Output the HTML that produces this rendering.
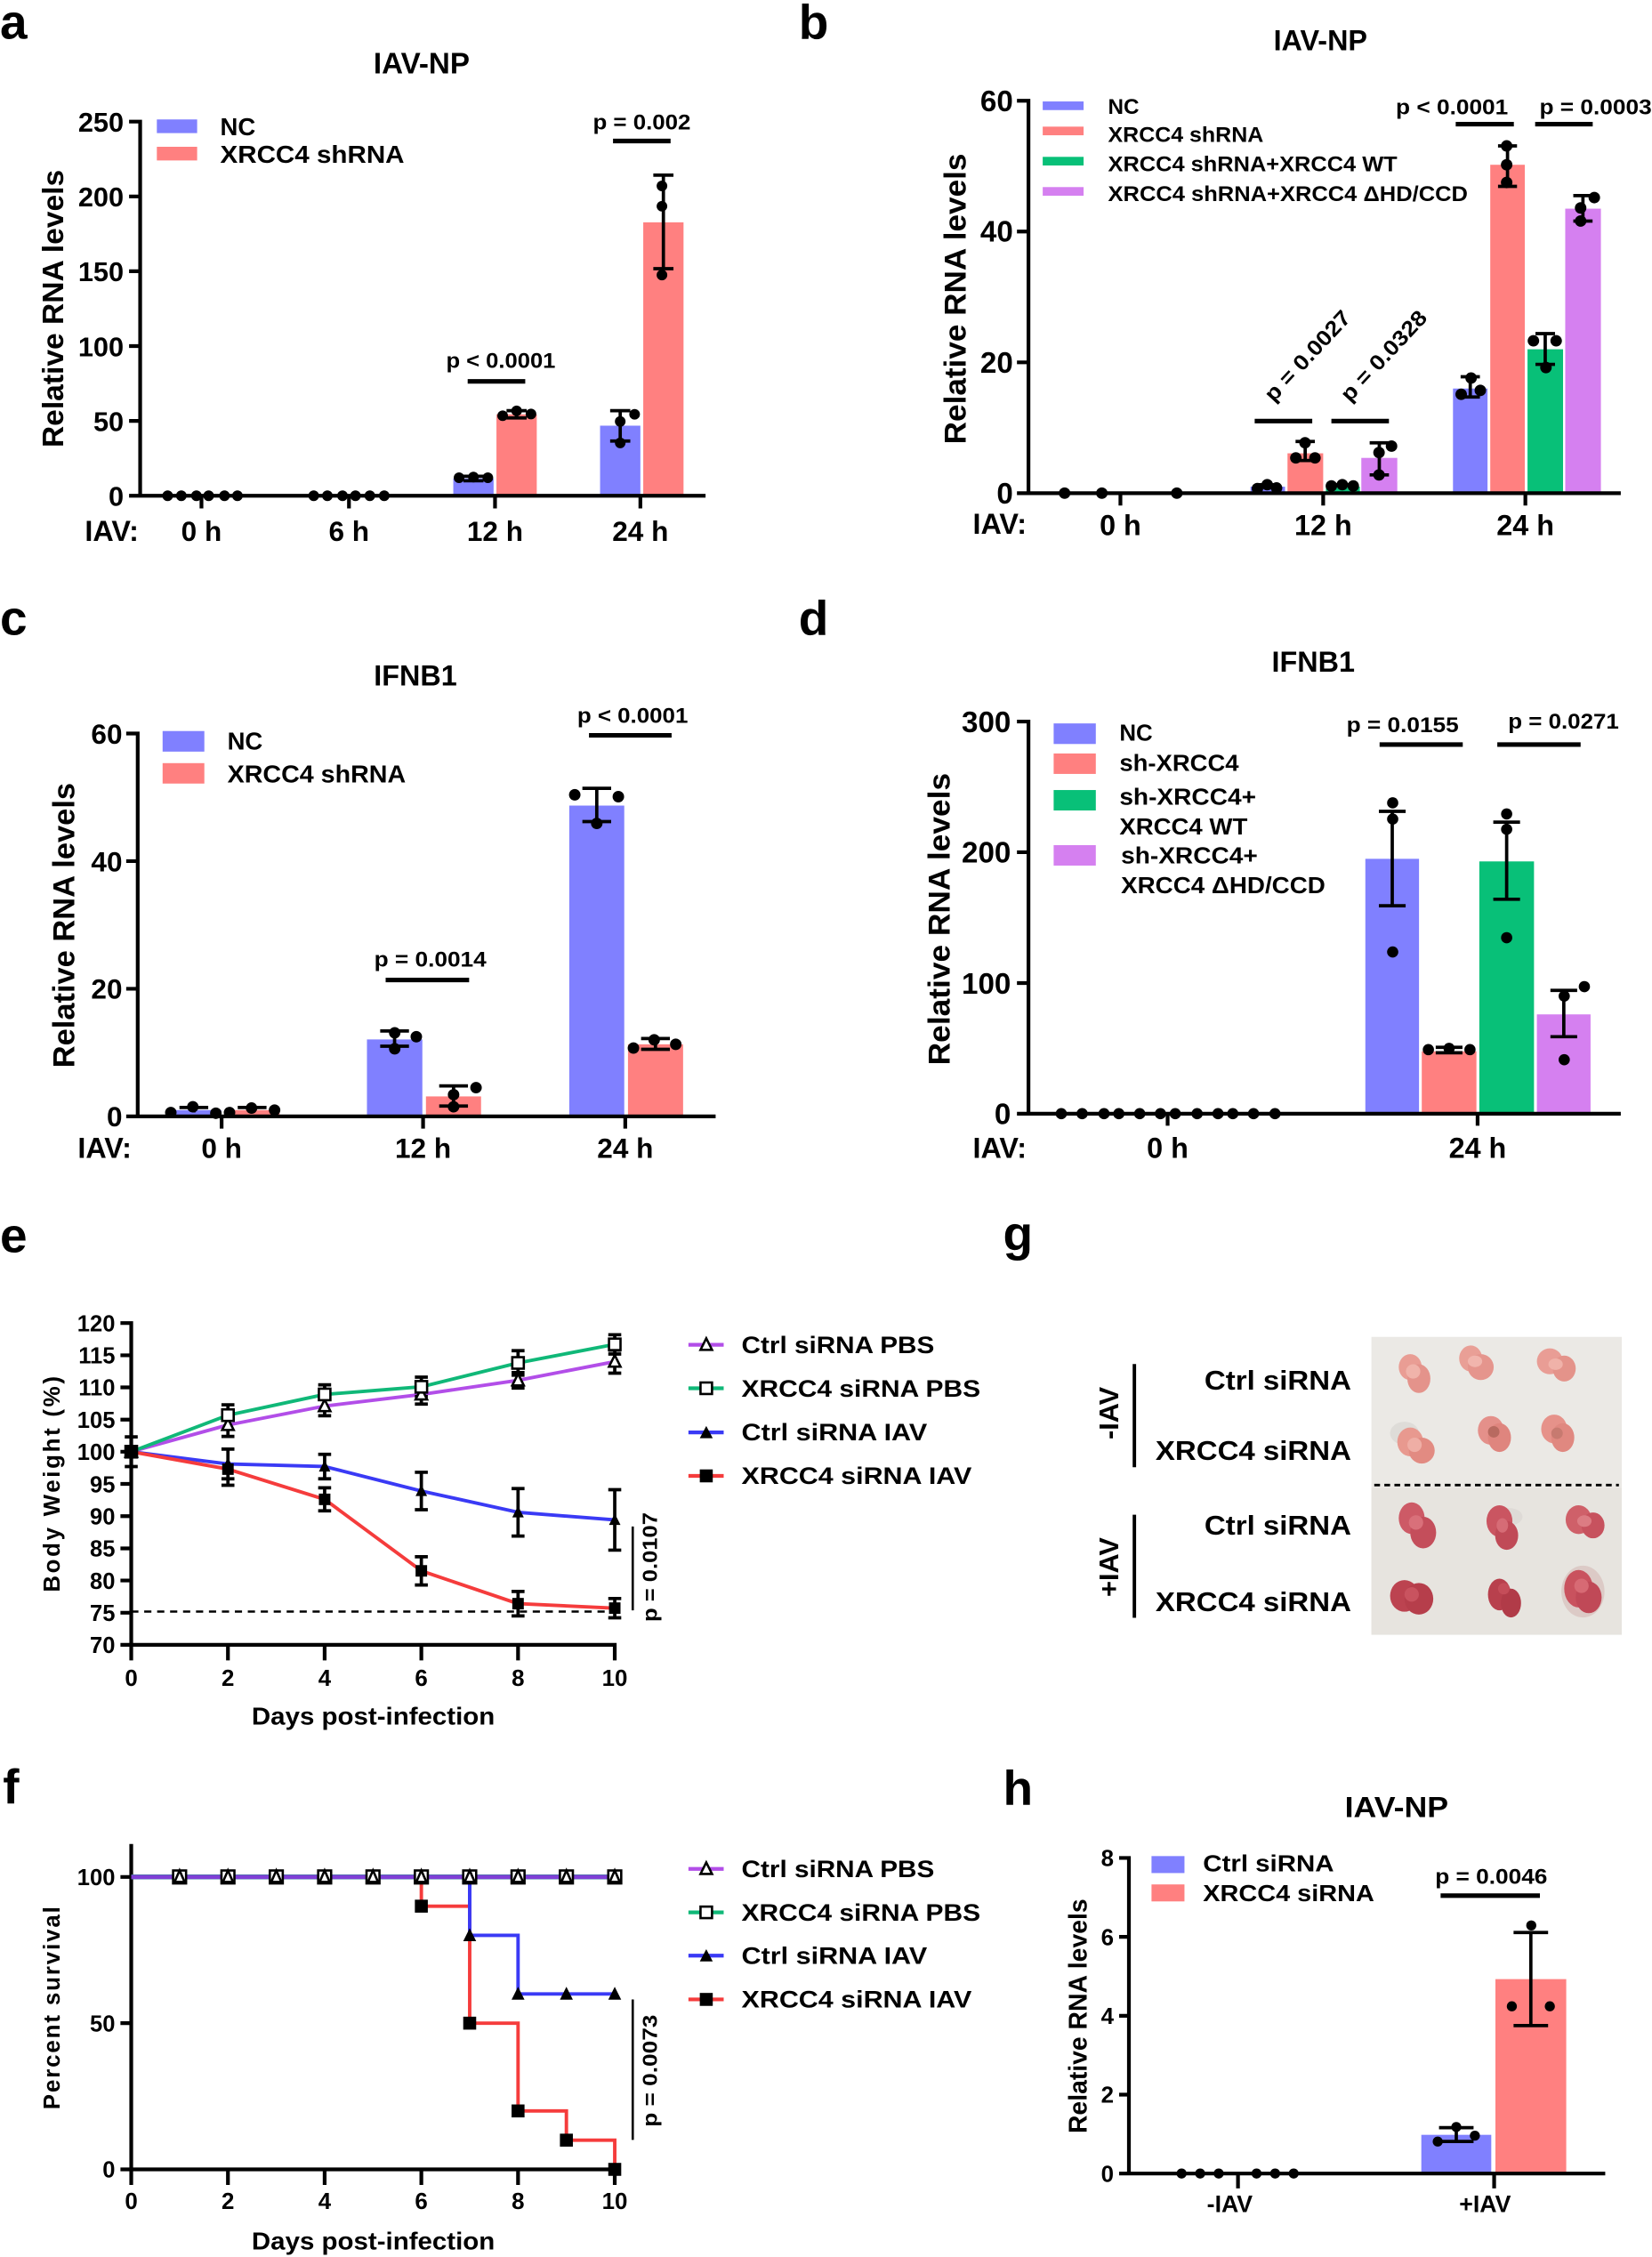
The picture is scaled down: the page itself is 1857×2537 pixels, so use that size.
<!DOCTYPE html>
<html><head><meta charset="utf-8"><style>
html,body{margin:0;padding:0;background:#fff}
svg{display:block}
text{font-family:"Liberation Sans",Arial,sans-serif;font-weight:bold;fill:#000}
.ax{stroke:#000;stroke-width:2.6;fill:none;stroke-linecap:square}
.eb{stroke:#000;stroke-width:2.3;fill:none}
.sg{stroke:#000;stroke-width:3.2}
</style></head><body>
<svg width="1857" height="2537" viewBox="0 0 1148 1568.4" preserveAspectRatio="none" xmlns="http://www.w3.org/2000/svg">
<rect width="1148" height="1569" fill="#fff"/>

<!-- ================= PANEL A ================= -->
<text x="0" y="27" font-size="34">a</text>
<text x="293" y="51" font-size="20.5" text-anchor="middle">IAV-NP</text>
<rect x="315" y="332.5" width="28" height="12" fill="#8080ff"/>
<rect x="345" y="287.9" width="28" height="56.6" fill="#ff8080"/>
<rect x="417" y="295.8" width="28" height="48.7" fill="#8080ff"/>
<rect x="447" y="154.5" width="28" height="190" fill="#ff8080"/>
<path class="ax" d="M97.4 84.5V344.5H489M91 84.5H97.4M91 136.5H97.4M91 188.5H97.4M91 240.5H97.4M91 292.5H97.4M91 344.5H97.4M140 344.5V352M242.5 344.5V352M344 344.5V352M445 344.5V352"/>
<g font-size="19" text-anchor="end">
<text x="86" y="351.5">0</text><text x="86" y="299.5">50</text><text x="86" y="247.5">100</text><text x="86" y="195.5">150</text><text x="86" y="143.5">200</text><text x="86" y="91.5">250</text>
</g>
<g font-size="19.5" text-anchor="middle">
<text x="140" y="376">0 h</text><text x="242.5" y="376">6 h</text><text x="344" y="376">12 h</text><text x="445" y="376">24 h</text>
</g>
<text x="59" y="376" font-size="20">IAV:</text>
<text transform="translate(44,214.5) rotate(-90)" font-size="20.5" text-anchor="middle" textLength="193" lengthAdjust="spacingAndGlyphs">Relative RNA levels</text>
<path class="eb" d="M461 121.7V186.7M454 121.7H468M454 186.7H468M431 285.4V306.5M424 285.4H438M424 306.5H438M359 285.4V290.4M352 285.4H366M352 290.4H366M329 331V334.1M322 331H336M322 334.1H336"/>
<g fill="#000">
<circle cx="460" cy="129.2" r="3.7"/><circle cx="460" cy="143.3" r="3.7"/><circle cx="460" cy="191.1" r="3.7"/>
<circle cx="431" cy="292.9" r="3.7"/><circle cx="441" cy="287.9" r="3.7"/><circle cx="431" cy="307.8" r="3.7"/>
<circle cx="319" cy="332" r="3.7"/><circle cx="329" cy="331.5" r="3.7"/><circle cx="339" cy="332" r="3.7"/>
<circle cx="349.3" cy="288.9" r="3.7"/><circle cx="359" cy="285.5" r="3.7"/><circle cx="369" cy="287.7" r="3.7"/>
<circle cx="116.5" cy="344.5" r="3.7"/><circle cx="126" cy="344.5" r="3.7"/><circle cx="136.5" cy="344.5" r="3.7"/><circle cx="145" cy="344.5" r="3.7"/><circle cx="156" cy="344.5" r="3.7"/><circle cx="165" cy="344.5" r="3.7"/>
<circle cx="218" cy="344.5" r="3.7"/><circle cx="227.5" cy="344.5" r="3.7"/><circle cx="238" cy="344.5" r="3.7"/><circle cx="247" cy="344.5" r="3.7"/><circle cx="257" cy="344.5" r="3.7"/><circle cx="267" cy="344.5" r="3.7"/>
</g>
<path class="sg" d="M325 265H365M426 98H466"/>
<text x="348" y="255.5" font-size="15" text-anchor="middle" textLength="76" lengthAdjust="spacingAndGlyphs">p &lt; 0.0001</text>
<text x="446" y="90" font-size="15" text-anchor="middle" textLength="68" lengthAdjust="spacingAndGlyphs">p = 0.002</text>
<rect x="109" y="83" width="28" height="9.5" fill="#8080ff"/>
<rect x="109" y="102" width="28" height="9.5" fill="#ff8080"/>
<text x="153" y="94" font-size="17">NC</text>
<text x="153" y="113" font-size="17" textLength="128" lengthAdjust="spacingAndGlyphs">XRCC4 shRNA</text>

<!-- ================= PANEL B ================= -->
<text x="555" y="27" font-size="34">b</text>
<text x="917.6" y="35" font-size="20" text-anchor="middle">IAV-NP</text>
<rect x="869" y="338.2" width="24" height="4.5" fill="#8080ff"/>
<rect x="894.7" y="315" width="24.8" height="27.7" fill="#ff8080"/>
<rect x="921.4" y="338.2" width="23.6" height="4.5" fill="#08c078"/>
<rect x="946" y="318.2" width="25" height="24.5" fill="#d580f0"/>
<rect x="1009.7" y="270" width="24" height="72.7" fill="#8080ff"/>
<rect x="1035.6" y="114.5" width="24" height="228.2" fill="#ff8080"/>
<rect x="1061.5" y="242.7" width="24.7" height="100" fill="#08c078"/>
<rect x="1087.7" y="145" width="24.8" height="197.7" fill="#d580f0"/>
<path class="ax" d="M714.7 70V342.7H1125M708 70H714.7M708 160.9H714.7M708 251.8H714.7M708 342.7H714.7M778.6 342.7V350M919.5 342.7V350M1060 342.7V350"/>
<g font-size="20.5" text-anchor="end">
<text x="704" y="350">0</text><text x="704" y="259">20</text><text x="704" y="168">40</text><text x="704" y="77.3">60</text>
</g>
<g font-size="20" text-anchor="middle">
<text x="778.6" y="372">0 h</text><text x="919.5" y="372">12 h</text><text x="1060" y="372">24 h</text>
</g>
<text x="676" y="371" font-size="20">IAV:</text>
<text transform="translate(671,207.7) rotate(-90)" font-size="21" text-anchor="middle" textLength="202" lengthAdjust="spacingAndGlyphs">Relative RNA levels</text>
<path class="eb" d="M1021.7 261.8V275.9M1015 261.8H1028.4M1015 275.9H1028.4M1047.6 101.4V129.5M1041 101.4H1054.2M1041 129.5H1054.2M1073.8 231.8V253.2M1067 231.8H1080.6M1067 253.2H1080.6M1100 135.9V153.6M1093.3 135.9H1106.7M1093.3 153.6H1106.7M907 306.8V320M900.3 306.8H913.7M900.3 320H913.7M958.5 307.7V330M951.8 307.7H965.2M951.8 330H965.2M881 336.8V339.5M874.3 336.8H887.7M933 336.8V339.5M926.3 336.8H939.7"/>
<g fill="#000">
<circle cx="1047" cy="101.4" r="4"/><circle cx="1047" cy="114.5" r="4"/><circle cx="1047" cy="126.8" r="4"/>
<circle cx="1098.4" cy="144.5" r="4"/><circle cx="1098.4" cy="153.6" r="4"/><circle cx="1107.9" cy="137.3" r="4"/>
<circle cx="1065.6" cy="236.8" r="4"/><circle cx="1081.4" cy="236.8" r="4"/><circle cx="1074.3" cy="255.4" r="4"/>
<circle cx="1022.3" cy="262.7" r="4"/><circle cx="1015.4" cy="274" r="4"/><circle cx="1028.7" cy="271.3" r="4"/>
<circle cx="906.9" cy="307.7" r="4"/><circle cx="900.5" cy="318.2" r="4"/><circle cx="913.8" cy="318.2" r="4"/>
<circle cx="958.3" cy="314.5" r="4"/><circle cx="967" cy="310" r="4"/><circle cx="958.3" cy="330" r="4"/>
<circle cx="873.8" cy="339.5" r="4"/><circle cx="880.6" cy="336.8" r="4"/><circle cx="887.1" cy="339.1" r="4"/>
<circle cx="925.2" cy="337.7" r="4"/><circle cx="932.8" cy="336.8" r="4"/><circle cx="940.4" cy="337.7" r="4"/>
<circle cx="739.8" cy="342.7" r="4"/><circle cx="765.7" cy="342.7" r="4"/><circle cx="817.8" cy="342.7" r="4"/>
</g>
<path class="sg" d="M871.9 292.6H911.9M925.2 292.6H965.2M1011.6 86.3H1052M1066.8 86.3H1106.8"/>
<text x="1009" y="79.4" font-size="15" text-anchor="middle" textLength="78" lengthAdjust="spacingAndGlyphs">p &lt; 0.0001</text>
<text x="1069.8" y="79.4" font-size="15" textLength="78" lengthAdjust="spacingAndGlyphs">p = 0.0003</text>
<text transform="translate(885,280) rotate(-47)" font-size="15" textLength="80" lengthAdjust="spacingAndGlyphs">p = 0.0027</text>
<text transform="translate(938,280) rotate(-47)" font-size="15" textLength="80" lengthAdjust="spacingAndGlyphs">p = 0.0328</text>
<rect x="724.6" y="70.5" width="28.4" height="6" fill="#8080ff"/>
<rect x="724.6" y="88" width="28.4" height="6" fill="#ff8080"/>
<rect x="724.6" y="109" width="28.4" height="6" fill="#08c078"/>
<rect x="724.6" y="130" width="28.4" height="6" fill="#d580f0"/>
<g font-size="15">
<text x="770" y="79">NC</text>
<text x="770" y="98.7" textLength="108" lengthAdjust="spacingAndGlyphs">XRCC4 shRNA</text>
<text x="770" y="119" textLength="201" lengthAdjust="spacingAndGlyphs">XRCC4 shRNA+XRCC4 WT</text>
<text x="770" y="139.6" textLength="250" lengthAdjust="spacingAndGlyphs">XRCC4 shRNA+XRCC4 ΔHD/CCD</text>
</g>

<!-- ================= PANEL C ================= -->
<text x="0" y="441" font-size="34">c</text>
<text x="288.7" y="476.2" font-size="20" text-anchor="middle">IFNB1</text>
<rect x="115.5" y="771.4" width="38.3" height="4.4" fill="#8080ff"/>
<rect x="156" y="771.4" width="38.3" height="4.4" fill="#ff8080"/>
<rect x="255" y="722.3" width="38.5" height="53.5" fill="#8080ff"/>
<rect x="296" y="761.9" width="38.3" height="13.9" fill="#ff8080"/>
<rect x="395.6" y="559.8" width="38.2" height="216" fill="#8080ff"/>
<rect x="436.4" y="725.7" width="38.3" height="50.1" fill="#ff8080"/>
<path class="ax" d="M95.7 509.7V775.8H496M89 509.7H95.7M89 598.4H95.7M89 687.1H95.7M89 775.8H95.7M154 775.8V783M294 775.8V783M434.5 775.8V783"/>
<g font-size="19.5" text-anchor="end">
<text x="85" y="782.8">0</text><text x="85" y="694.1">20</text><text x="85" y="605.4">40</text><text x="85" y="516.7">60</text>
</g>
<g font-size="19.5" text-anchor="middle">
<text x="154" y="804.7">0 h</text><text x="294" y="804.7">12 h</text><text x="434.5" y="804.7">24 h</text>
</g>
<text x="54" y="804.7" font-size="20">IAV:</text>
<text transform="translate(51.5,643) rotate(-90)" font-size="21" text-anchor="middle" textLength="198" lengthAdjust="spacingAndGlyphs">Relative RNA levels</text>
<path class="eb" d="M274.2 716.4V727M264.2 716.4H284.2M264.2 727H284.2M315.2 754.6V768.6M305.2 754.6H325.2M305.2 768.6H325.2M414.7 547.8V570.9M404.7 547.8H424.7M404.7 570.9H424.7M455.5 721.7V729.2M445.5 721.7H465.5M445.5 729.2H465.5M134.7 769.6V773.1M124.7 769.6H144.7M175.2 769.6V773.1M165.2 769.6H185.2"/>
<g fill="#000">
<circle cx="274.3" cy="717.7" r="4"/><circle cx="289.3" cy="720.4" r="4"/><circle cx="274.3" cy="728.8" r="4"/>
<circle cx="330.8" cy="755.8" r="4"/><circle cx="315.2" cy="760.7" r="4"/><circle cx="315.2" cy="769.1" r="4"/>
<circle cx="399.4" cy="552.3" r="4"/><circle cx="429.7" cy="553.6" r="4"/><circle cx="414.7" cy="572.2" r="4"/>
<circle cx="440.2" cy="728.3" r="4"/><circle cx="454.6" cy="722.6" r="4"/><circle cx="469.6" cy="725.7" r="4"/>
<circle cx="118.7" cy="773.1" r="4"/><circle cx="134" cy="769.1" r="4"/><circle cx="150" cy="773.6" r="4"/><circle cx="159.5" cy="773.1" r="4"/><circle cx="174.8" cy="770" r="4"/><circle cx="190.8" cy="771.4" r="4"/>
</g>
<path class="sg" d="M268 681H326M409.3 511H466.7"/>
<text x="299" y="671.6" font-size="15" text-anchor="middle" textLength="78" lengthAdjust="spacingAndGlyphs">p = 0.0014</text>
<text x="439.6" y="502.2" font-size="15" text-anchor="middle" textLength="77" lengthAdjust="spacingAndGlyphs">p &lt; 0.0001</text>
<rect x="113" y="508" width="29" height="14.3" fill="#8080ff"/>
<rect x="113" y="530.3" width="29" height="14.2" fill="#ff8080"/>
<text x="158" y="521" font-size="17">NC</text>
<text x="158" y="543.7" font-size="17" textLength="124" lengthAdjust="spacingAndGlyphs">XRCC4 shRNA</text>

<!-- ================= PANEL D ================= -->
<text x="555" y="441" font-size="34">d</text>
<text x="912.6" y="466.9" font-size="20" text-anchor="middle">IFNB1</text>
<rect x="948.8" y="596.8" width="37.3" height="177.1" fill="#8080ff"/>
<rect x="988" y="730.6" width="38" height="43.3" fill="#ff8080"/>
<rect x="1028" y="598.6" width="38" height="175.3" fill="#08c078"/>
<rect x="1068" y="704.9" width="37.3" height="69" fill="#d580f0"/>
<path class="ax" d="M714.7 501.4V773.9H1125M708 501.4H714.7M708 592.2H714.7M708 683.1H714.7M708 773.9H714.7M811.4 773.9V781M1026.8 773.9V781"/>
<g font-size="20.5" text-anchor="end">
<text x="702.5" y="781.2">0</text><text x="702.5" y="690.4">100</text><text x="702.5" y="599.5">200</text><text x="702.5" y="508.7">300</text>
</g>
<g font-size="20" text-anchor="middle">
<text x="811.4" y="804.7">0 h</text><text x="1026.8" y="804.7">24 h</text>
</g>
<text x="676" y="804.7" font-size="20">IAV:</text>
<text transform="translate(660,638.7) rotate(-90)" font-size="21" text-anchor="middle" textLength="203" lengthAdjust="spacingAndGlyphs">Relative RNA levels</text>
<path class="eb" d="M967.5 563.8V629.4M958.2 563.8H976.8M958.2 629.4H976.8M1007 727.8V731.6M997.7 727.8H1016.3M997.7 731.6H1016.3M1047 571.3V624.9M1037.7 571.3H1056.3M1037.7 624.9H1056.3M1086.7 688.2V720.4M1077.4 688.2H1096M1077.4 720.4H1096"/>
<g fill="#000">
<circle cx="967.8" cy="557.9" r="3.9"/><circle cx="967.8" cy="569.2" r="3.9"/><circle cx="967.8" cy="661.5" r="3.9"/>
<circle cx="992.6" cy="729.4" r="3.9"/><circle cx="1007" cy="728.5" r="3.9"/><circle cx="1021.5" cy="729.4" r="3.9"/>
<circle cx="1047" cy="565.6" r="3.9"/><circle cx="1047" cy="576.3" r="3.9"/><circle cx="1047" cy="651.6" r="3.9"/>
<circle cx="1087" cy="692.2" r="3.9"/><circle cx="1101" cy="685.6" r="3.9"/><circle cx="1087" cy="736.4" r="3.9"/>
<circle cx="737.5" cy="773.9" r="3.9"/><circle cx="752" cy="773.9" r="3.9"/><circle cx="767.2" cy="773.9" r="3.9"/><circle cx="777.5" cy="773.9" r="3.9"/><circle cx="792" cy="773.9" r="3.9"/><circle cx="806.4" cy="773.9" r="3.9"/><circle cx="816.7" cy="773.9" r="3.9"/><circle cx="831.9" cy="773.9" r="3.9"/><circle cx="846.4" cy="773.9" r="3.9"/><circle cx="856.7" cy="773.9" r="3.9"/><circle cx="871.1" cy="773.9" r="3.9"/><circle cx="886" cy="773.9" r="3.9"/>
</g>
<path class="sg" d="M958.7 517.4H1016.5M1040.5 517.4H1098.4"/>
<text x="974.7" y="508.9" font-size="15" text-anchor="middle" textLength="78" lengthAdjust="spacingAndGlyphs">p = 0.0155</text>
<text x="1048" y="506.2" font-size="15" textLength="77" lengthAdjust="spacingAndGlyphs">p = 0.0271</text>
<rect x="732.2" y="502.7" width="29.3" height="14.3" fill="#8080ff"/>
<rect x="732.2" y="523.6" width="29.3" height="14.2" fill="#ff8080"/>
<rect x="732.2" y="549" width="29.3" height="14.2" fill="#08c078"/>
<rect x="732.2" y="587.3" width="29.3" height="14.2" fill="#d580f0"/>
<g font-size="16">
<text x="777.9" y="514.8">NC</text>
<text x="777.9" y="535.7" textLength="83" lengthAdjust="spacingAndGlyphs">sh-XRCC4</text>
<text x="777.9" y="559.2" textLength="95" lengthAdjust="spacingAndGlyphs">sh-XRCC4+</text>
<text x="777.9" y="579.8" textLength="89" lengthAdjust="spacingAndGlyphs">XRCC4 WT</text>
<text x="779" y="599.9" textLength="95" lengthAdjust="spacingAndGlyphs">sh-XRCC4+</text>
<text x="779" y="620.8" textLength="142" lengthAdjust="spacingAndGlyphs">XRCC4 ΔHD/CCD</text>
</g>

<!-- ================= PANEL E ================= -->
<text x="0" y="870" font-size="34">e</text>
<path class="ax" d="M91.2 919.4V1143H427.2M85 919.4H91.2M85 941.8H91.2M85 964.1H91.2M85 986.5H91.2M85 1008.8H91.2M85 1031.2H91.2M85 1053.6H91.2M85 1076H91.2M85 1098.3H91.2M85 1120.7H91.2M85 1143H91.2M91.2 1143V1152.5M158.4 1143V1152.5M225.6 1143V1152.5M292.8 1143V1152.5M360 1143V1152.5M427.2 1143V1152.5"/>
<g font-size="15.8" text-anchor="end">
<text x="80" y="925.1">120</text><text x="80" y="947.5">115</text><text x="80" y="969.8">110</text><text x="80" y="992.2">105</text><text x="80" y="1014.5">100</text><text x="80" y="1036.9">95</text><text x="80" y="1059.3">90</text><text x="80" y="1081.7">85</text><text x="80" y="1104">80</text><text x="80" y="1126.4">75</text><text x="80" y="1148.7">70</text>
</g>
<g font-size="16" text-anchor="middle">
<text x="91.2" y="1171.4">0</text><text x="158.4" y="1171.4">2</text><text x="225.6" y="1171.4">4</text><text x="292.8" y="1171.4">6</text><text x="360" y="1171.4">8</text><text x="427.2" y="1171.4">10</text>
</g>
<text x="259.4" y="1198.5" font-size="17" text-anchor="middle" textLength="169" lengthAdjust="spacingAndGlyphs">Days post-infection</text>
<text transform="translate(41.5,1031.4) rotate(-90)" font-size="16" text-anchor="middle" textLength="150" lengthAdjust="spacing">Body Weight (%)</text>
<path d="M91.2 1119.9H427.2" stroke="#000" stroke-width="1.5" stroke-dasharray="5 4"/>
<g fill="none" stroke-width="2.4" stroke-linejoin="round">
<polyline stroke="#b24ee8" points="91.2,1008.8 158.4,990.2 225.6,977.1 292.8,969 360,959.2 427.2,946.2"/>
<polyline stroke="#10b878" points="91.2,1008.8 158.4,983.4 225.6,969 292.8,963.7 360,947.1 427.2,934.2"/>
<polyline stroke="#3a3af5" points="91.2,1008.8 158.4,1017.3 225.6,1019.1 292.8,1036.1 360,1050.9 427.2,1056.2"/>
<polyline stroke="#f53c3c" points="91.2,1008.8 158.4,1020.9 225.6,1041.9 292.8,1091.6 360,1114.4 427.2,1117.5"/>
</g>
<path class="eb" stroke-width="2" d="M91.2 998.5V1019.1M86.7 998.5H95.7M86.7 1019.1H95.7
M158.4 982.2V998.2M153.9 982.2H162.9M153.9 998.2H162.9M225.6 970.4V983.8M221.1 970.4H230.1M221.1 983.8H230.1M292.8 962.3V975.7M288.3 962.3H297.3M288.3 975.7H297.3M360 953.8V964.6M355.5 953.8H364.5M355.5 964.6H364.5M427.2 938.2V954.2M422.7 938.2H431.7M422.7 954.2H431.7
M158.4 976.2V990.6M153.9 976.2H162.9M225.6 962.3V975.7M221.1 962.3H230.1M292.8 957H297.3M288.3 957H297.3M292.8 957V970.4M288.3 970.4H297.3M360 938.6V955.6M355.5 938.6H364.5M355.5 955.6H364.5M427.2 927.5V940.9M422.7 927.5H431.7M422.7 940.9H431.7
M158.4 1007V1027.6M153.9 1007H162.9M153.9 1027.6H162.9M225.6 1010.6V1027.6M221.1 1010.6H230.1M221.1 1027.6H230.1M292.8 1023.1V1049.1M288.3 1023.1H297.3M288.3 1049.1H297.3M360 1034.4V1067.4M355.5 1034.4H364.5M355.5 1067.4H364.5M427.2 1035.2V1077.2M422.7 1035.2H431.7M422.7 1077.2H431.7
M158.4 1009.7V1032.1M153.9 1032.1H162.9M225.6 1033.9V1049.9M221.1 1033.9H230.1M221.1 1049.9H230.1M292.8 1081.8V1101.4M288.3 1081.8H297.3M288.3 1101.4H297.3M360 1105.9V1122.9M355.5 1105.9H364.5M355.5 1122.9H364.5M427.2 1110.8V1124.2M422.7 1110.8H431.7M422.7 1124.2H431.7"/>
<g fill="#fff" stroke="#000" stroke-width="1.6">
<path d="M91.2 1004.3L87.2 1012.3H95.2Z"/><path d="M158.4 985.7L154.4 993.7H162.4Z"/><path d="M225.6 972.6L221.6 980.6H229.6Z"/><path d="M292.8 964.5L288.8 972.5H296.8Z"/><path d="M360 954.7L356 962.7H364Z"/><path d="M427.2 941.7L423.2 949.7H431.2Z"/>
<rect x="87.2" y="1004.8" width="8" height="8"/><rect x="154.4" y="979.4" width="8" height="8"/><rect x="221.6" y="965" width="8" height="8"/><rect x="288.8" y="959.7" width="8" height="8"/><rect x="356" y="943.1" width="8" height="8"/><rect x="423.2" y="930.2" width="8" height="8"/>
</g>
<g fill="#000">
<path d="M158.4 1012.8L154.4 1020.8H162.4Z"/><path d="M225.6 1014.6L221.6 1022.6H229.6Z"/><path d="M292.8 1031.6L288.8 1039.6H296.8Z"/><path d="M360 1046.4L356 1054.4H364Z"/><path d="M427.2 1051.7L423.2 1059.7H431.2Z"/>
<rect x="87.2" y="1004.8" width="8" height="8"/><rect x="154.4" y="1016.9" width="8" height="8"/><rect x="221.6" y="1037.9" width="8" height="8"/><rect x="288.8" y="1087.6" width="8" height="8"/><rect x="356" y="1110.4" width="8" height="8"/><rect x="423.2" y="1113.5" width="8" height="8"/>
</g>
<path d="M439.7 1060.8V1119" stroke="#000" stroke-width="1.6"/>
<text transform="translate(456.5,1089) rotate(-90)" font-size="14.5" text-anchor="middle" textLength="76" lengthAdjust="spacingAndGlyphs">p = 0.0107</text>
<g stroke-width="2.6">
<path d="M478.4 934.5H502.9" stroke="#b24ee8"/><path d="M478.4 964.7H502.9" stroke="#10b878"/><path d="M478.4 995.4H502.9" stroke="#3a3af5"/><path d="M478.4 1025.6H502.9" stroke="#f53c3c"/>
</g>
<path d="M490.8 930L486.8 938H494.8Z" fill="#fff" stroke="#000" stroke-width="1.6"/>
<rect x="486.8" y="960.7" width="8" height="8" fill="#fff" stroke="#000" stroke-width="1.6"/>
<path d="M490.8 990.9L486.3 999.4H495.3Z" fill="#000"/>
<rect x="486.3" y="1021.1" width="9" height="9" fill="#000"/>
<g font-size="16.5">
<text x="515.3" y="940.2" textLength="134" lengthAdjust="spacingAndGlyphs">Ctrl siRNA PBS</text>
<text x="515.3" y="970.5" textLength="166" lengthAdjust="spacingAndGlyphs">XRCC4 siRNA PBS</text>
<text x="515.3" y="1001" textLength="129" lengthAdjust="spacingAndGlyphs">Ctrl siRNA IAV</text>
<text x="515.3" y="1031.3" textLength="160" lengthAdjust="spacingAndGlyphs">XRCC4 siRNA IAV</text>
</g>

<!-- ================= PANEL G ================= -->
<text x="697" y="869" font-size="34">g</text>
<rect x="953" y="929" width="174" height="207" fill="#ebe9e5"/>
<rect x="953" y="1034" width="174" height="102" fill="#e7e4df"/>
<g>
<!-- row 1 -->
<ellipse cx="980" cy="950" rx="8" ry="9" fill="#e99d94"/><ellipse cx="986" cy="958" rx="8" ry="10" fill="#e4938b"/><ellipse cx="982" cy="953" rx="5" ry="5" fill="#f0b3aa"/>
<ellipse cx="1022" cy="944" rx="8" ry="9" fill="#e99f96"/><ellipse cx="1029" cy="950" rx="9" ry="9" fill="#e5958d"/><ellipse cx="1025" cy="946" rx="5" ry="4" fill="#f1b5ad"/>
<ellipse cx="1077" cy="946" rx="9" ry="9" fill="#e99d95"/><ellipse cx="1087" cy="951" rx="8" ry="9" fill="#e4938a"/><ellipse cx="1081" cy="948" rx="5" ry="4" fill="#f0b2a9"/>
<!-- row 2 -->
<ellipse cx="976" cy="996" rx="10" ry="8" fill="#dedcd8"/>
<ellipse cx="980" cy="1002" rx="9" ry="10" fill="#e8998f"/><ellipse cx="988" cy="1008" rx="9" ry="9" fill="#e28b82"/><ellipse cx="983" cy="1004" rx="5" ry="5" fill="#efaea5"/>
<ellipse cx="1036" cy="994" rx="9" ry="10" fill="#e4908a"/><ellipse cx="1042" cy="999" rx="8" ry="10" fill="#df857e"/><ellipse cx="1038" cy="995" rx="4" ry="4" fill="#b86a60"/>
<ellipse cx="1080" cy="993" rx="9" ry="10" fill="#e6928a"/><ellipse cx="1086" cy="999" rx="8" ry="10" fill="#e08880"/><ellipse cx="1082" cy="996" rx="4" ry="4" fill="#c77a70"/>
<!-- row 3 -->
<ellipse cx="981" cy="1055" rx="9" ry="11" fill="#cd5a66"/><ellipse cx="989" cy="1065" rx="9" ry="11" fill="#c44e5b"/><ellipse cx="984" cy="1058" rx="5" ry="5" fill="#d9707a"/>
<ellipse cx="1049" cy="1054" rx="9" ry="6" fill="#dedad6"/>
<ellipse cx="1042" cy="1057" rx="9" ry="11" fill="#ca5561"/><ellipse cx="1047" cy="1067" rx="8" ry="10" fill="#c04a57"/><ellipse cx="1044" cy="1060" rx="4" ry="5" fill="#d66c76"/>
<ellipse cx="1097" cy="1056" rx="9" ry="10" fill="#cf6069"/><ellipse cx="1107" cy="1060" rx="8" ry="9" fill="#c7525e"/><ellipse cx="1101" cy="1057" rx="5" ry="4" fill="#dc7c83"/>
<!-- row 4 -->
<ellipse cx="976" cy="1109" rx="10" ry="11" fill="#bc4350"/><ellipse cx="986" cy="1111" rx="10" ry="11" fill="#b63e4b"/><ellipse cx="981" cy="1108" rx="5" ry="5" fill="#c9535f"/>
<ellipse cx="1042" cy="1108" rx="8" ry="11" fill="#b8404d"/><ellipse cx="1050" cy="1114" rx="7" ry="10" fill="#b13b48"/><ellipse cx="1045" cy="1104" rx="4" ry="4" fill="#c54d59"/>
<ellipse cx="1100" cy="1106" rx="15" ry="18" fill="#dccac6"/>
<ellipse cx="1097" cy="1104" rx="10" ry="13" fill="#c9525e"/><ellipse cx="1104" cy="1110" rx="9" ry="11" fill="#c04957"/><ellipse cx="1099" cy="1102" rx="5" ry="5" fill="#d76a74"/>
</g>
<path d="M955 1032H1125" stroke="#000" stroke-width="1.8" stroke-dasharray="4 3"/>
<path d="M788.3 947.9V1019.6M788.3 1052.6V1124.2" stroke="#000" stroke-width="2.4"/>
<text transform="translate(777,982) rotate(-90)" font-size="19" text-anchor="middle">-IAV</text>
<text transform="translate(777,1089) rotate(-90)" font-size="19" text-anchor="middle">+IAV</text>
<g font-size="19" text-anchor="end">
<text x="939" y="965.5" textLength="102" lengthAdjust="spacingAndGlyphs">Ctrl siRNA</text>
<text x="939" y="1014.5" textLength="136" lengthAdjust="spacingAndGlyphs">XRCC4 siRNA</text>
<text x="939" y="1066.5" textLength="102" lengthAdjust="spacingAndGlyphs">Ctrl siRNA</text>
<text x="939" y="1119.5" textLength="136" lengthAdjust="spacingAndGlyphs">XRCC4 siRNA</text>
</g>

<!-- ================= PANEL F ================= -->
<text x="2" y="1253" font-size="34">f</text>
<path class="ax" d="M91.2 1282.7V1507.5H427.2M85 1304.3H91.2M85 1405.9H91.2M85 1507.5H91.2M91.2 1507.5V1517M158.4 1507.5V1517M225.6 1507.5V1517M292.8 1507.5V1517M360 1507.5V1517M427.2 1507.5V1517"/>
<g font-size="15.8" text-anchor="end">
<text x="80" y="1310">100</text><text x="80" y="1411.6">50</text><text x="80" y="1513.2">0</text>
</g>
<g font-size="16" text-anchor="middle">
<text x="91.2" y="1535">0</text><text x="158.4" y="1535">2</text><text x="225.6" y="1535">4</text><text x="292.8" y="1535">6</text><text x="360" y="1535">8</text><text x="427.2" y="1535">10</text>
</g>
<text x="259.4" y="1563" font-size="17" text-anchor="middle" textLength="169" lengthAdjust="spacingAndGlyphs">Days post-infection</text>
<text transform="translate(41.5,1395.4) rotate(-90)" font-size="16" text-anchor="middle" textLength="141" lengthAdjust="spacing">Percent survival</text>
<g fill="none" stroke-width="2.4">
<path d="M91.2 1304.3H427.2" stroke="#10b878" stroke-width="3.4"/>
<path d="M91.2 1304.3H326.4V1344.9H360V1385.6H427.2" stroke="#3a3af5"/>
<path d="M91.2 1304.3H292.8V1324.6H326.4V1405.9H360V1466.9H393.6V1487.2H427.2V1507.5" stroke="#f53c3c"/>
<path d="M91.2 1304.3H427.2" stroke="#7f3fd6" stroke-width="3"/>
<path d="M326.4 1304.3V1344.9" stroke="#3a3af5"/>
</g>
<g fill="#fff" stroke="#000" stroke-width="1.6">
<rect x="120.3" y="1299.8" width="9" height="9"/><rect x="153.9" y="1299.8" width="9" height="9"/><rect x="187.5" y="1299.8" width="9" height="9"/><rect x="221.1" y="1299.8" width="9" height="9"/><rect x="254.7" y="1299.8" width="9" height="9"/><rect x="288.3" y="1299.8" width="9" height="9"/><rect x="321.9" y="1299.8" width="9" height="9"/><rect x="355.5" y="1299.8" width="9" height="9"/><rect x="389.1" y="1299.8" width="9" height="9"/><rect x="422.7" y="1299.8" width="9" height="9"/>
<path d="M124.8 1299.8L121.3 1307.8H128.3ZM158.4 1299.8L154.9 1307.8H161.9ZM192 1299.8L188.5 1307.8H195.5ZM225.6 1299.8L222.1 1307.8H229.1ZM259.2 1299.8L255.7 1307.8H262.7ZM292.8 1299.8L289.3 1307.8H296.3ZM326.4 1299.8L322.9 1307.8H329.9ZM360 1299.8L356.5 1307.8H363.5ZM393.6 1299.8L390.1 1307.8H397.1ZM427.2 1299.8L423.7 1307.8H430.7Z"/>
</g>
<g fill="#000">
<path d="M326.4 1339.9L321.9 1348.9H330.9ZM360 1380.6L355.5 1389.6H364.5ZM393.6 1380.6L389.1 1389.6H398.1ZM427.2 1380.6L422.7 1389.6H431.7Z"/>
<rect x="288.3" y="1320.1" width="9" height="9"/><rect x="321.9" y="1401.4" width="9" height="9"/><rect x="355.5" y="1462.4" width="9" height="9"/><rect x="389.1" y="1482.7" width="9" height="9"/><rect x="422.7" y="1503" width="9" height="9"/>
</g>
<path d="M439.7 1389.4V1487" stroke="#000" stroke-width="1.6"/>
<text transform="translate(456.5,1439) rotate(-90)" font-size="14.5" text-anchor="middle" textLength="78" lengthAdjust="spacingAndGlyphs">p = 0.0073</text>
<g stroke-width="2.6">
<path d="M478.4 1298.7H502.9" stroke="#b24ee8"/><path d="M478.4 1328.9H502.9" stroke="#10b878"/><path d="M478.4 1359H502.9" stroke="#3a3af5"/><path d="M478.4 1389.4H502.9" stroke="#f53c3c"/>
</g>
<path d="M490.8 1294.2L486.8 1302.2H494.8Z" fill="#fff" stroke="#000" stroke-width="1.6"/>
<rect x="486.8" y="1324.9" width="8" height="8" fill="#fff" stroke="#000" stroke-width="1.6"/>
<path d="M490.8 1354.5L486.3 1363H495.3Z" fill="#000"/>
<rect x="486.3" y="1384.9" width="9" height="9" fill="#000"/>
<g font-size="16.5">
<text x="515.3" y="1304.4" textLength="134" lengthAdjust="spacingAndGlyphs">Ctrl siRNA PBS</text>
<text x="515.3" y="1334.6" textLength="166" lengthAdjust="spacingAndGlyphs">XRCC4 siRNA PBS</text>
<text x="515.3" y="1364.7" textLength="129" lengthAdjust="spacingAndGlyphs">Ctrl siRNA IAV</text>
<text x="515.3" y="1395.1" textLength="160" lengthAdjust="spacingAndGlyphs">XRCC4 siRNA IAV</text>
</g>

<!-- ================= PANEL H ================= -->
<text x="697" y="1254" font-size="34">h</text>
<text x="970.5" y="1262.6" font-size="20" text-anchor="middle" textLength="72" lengthAdjust="spacingAndGlyphs">IAV-NP</text>
<rect x="987.7" y="1483.5" width="48.6" height="26.9" fill="#8080ff"/>
<rect x="1039.2" y="1375.3" width="49.2" height="135.1" fill="#ff8080"/>
<path class="ax" stroke-width="2.3" d="M784.5 1291.1V1510.4H1114.2M779 1291.1H784.5M779 1345.9H784.5M779 1400.8H784.5M779 1455.6H784.5M779 1510.4H784.5M860.3 1510.4V1519.4M1038.3 1510.4V1519.4"/>
<g font-size="16" text-anchor="end">
<text x="774" y="1516.1">0</text><text x="774" y="1461.3">2</text><text x="774" y="1406.5">4</text><text x="774" y="1351.6">6</text><text x="774" y="1296.8">8</text>
</g>
<g font-size="16.5" text-anchor="middle">
<text x="854.6" y="1537.2">-IAV</text><text x="1032" y="1537.2">+IAV</text>
</g>
<text transform="translate(755,1401) rotate(-90)" font-size="17.5" text-anchor="middle" textLength="163" lengthAdjust="spacingAndGlyphs">Relative RNA levels</text>
<path class="eb" d="M1012 1478.5V1488.1M1000 1478.5H1024M1000 1488.1H1024M1063.8 1342.9V1407.6M1051.8 1342.9H1075.8M1051.8 1407.6H1075.8"/>
<g fill="#000">
<circle cx="999.1" cy="1488.2" r="3.5"/><circle cx="1012" cy="1478.1" r="3.5"/><circle cx="1024.9" cy="1484.1" r="3.5"/>
<circle cx="1064.1" cy="1338" r="3.5"/><circle cx="1050.6" cy="1394.2" r="3.5"/><circle cx="1077" cy="1394.2" r="3.5"/>
<circle cx="821.1" cy="1510.4" r="3.5"/><circle cx="834" cy="1510.4" r="3.5"/><circle cx="846.9" cy="1510.4" r="3.5"/><circle cx="873.2" cy="1510.4" r="3.5"/><circle cx="886.1" cy="1510.4" r="3.5"/><circle cx="899" cy="1510.4" r="3.5"/>
</g>
<path class="sg" d="M1001.1 1317.3H1070.1"/>
<text x="1036.3" y="1309" font-size="15" text-anchor="middle" textLength="78" lengthAdjust="spacingAndGlyphs">p = 0.0046</text>
<rect x="800.2" y="1289.8" width="22.9" height="11.8" fill="#8080ff"/>
<rect x="800.2" y="1309.5" width="22.9" height="11.8" fill="#ff8080"/>
<text x="836" y="1300.5" font-size="16" textLength="91" lengthAdjust="spacingAndGlyphs">Ctrl siRNA</text>
<text x="836" y="1321" font-size="16" textLength="119" lengthAdjust="spacingAndGlyphs">XRCC4 siRNA</text>
</svg>
</body></html>
